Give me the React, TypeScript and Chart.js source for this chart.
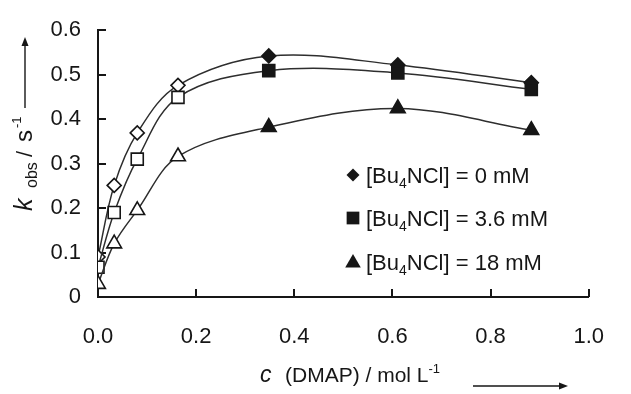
import React, { useEffect, useRef } from 'react';
import { Chart, registerables } from 'chart.js';

Chart.register(...registerables);

// ---- data ----
const dmapConc = [0, 0.033, 0.08, 0.163, 0.348, 0.611, 0.883];
const kObs0mM = [0.09, 0.251, 0.369, 0.476, 0.542, 0.522, 0.482];
const kObs3_6mM = [0.067, 0.19, 0.31, 0.449, 0.509, 0.504, 0.467];
const kObs18mM = [0.029, 0.12, 0.195, 0.316, 0.382, 0.424, 0.375];
const saltConcLabels = ['0', '3.6', '18'];
const xTickLabels = ['0.0', '0.2', '0.4', '0.6', '0.8', '1.0'];
const yTickLabels = ['0', '0.1', '0.2', '0.3', '0.4', '0.5', '0.6'];

// ---- style ----
const FONT = '"Liberation Sans", Arial, sans-serif';
const INK = '#161616';
const LINE = '#2e2e2e';
const OPEN_POINTS = 4;
const pointStyles = ['rectRot', 'rect', 'triangle'];
const pointRadii = [7, 8.5, 8.5];

function drawMarker(ctx: CanvasRenderingContext2D, style: string, x: number, y: number, r: number) {
  ctx.beginPath();
  if (style === 'rectRot') {
    ctx.moveTo(x - r, y); ctx.lineTo(x, y - r); ctx.lineTo(x + r, y); ctx.lineTo(x, y + r);
  } else if (style === 'rect') {
    const s = r * Math.SQRT1_2;
    ctx.rect(x - s, y - s, 2 * s, 2 * s);
  } else {
    const a = (2 * Math.PI) / 3;
    ctx.moveTo(x, y - r);
    ctx.lineTo(x + Math.sin(a) * r, y - Math.cos(a) * r);
    ctx.lineTo(x + Math.sin(2 * a) * r, y - Math.cos(2 * a) * r);
  }
  ctx.closePath();
  ctx.fill();
}

type Run = { t: string; f: string; dy?: number; at?: number };
function drawRuns(ctx: CanvasRenderingContext2D, x: number, y: number, runs: Run[]) {
  let cx = x;
  for (const r of runs) {
    ctx.font = r.f;
    if (r.at !== undefined) cx = x + r.at;
    ctx.fillText(r.t, cx, y + (r.dy || 0));
    cx += ctx.measureText(r.t).width;
  }
}

function arrow(ctx: CanvasRenderingContext2D, x1: number, y1: number, x2: number, y2: number) {
  const ang = Math.atan2(y2 - y1, x2 - x1);
  const hl = 9, hw = 3.5;
  ctx.beginPath();
  ctx.moveTo(x1, y1);
  ctx.lineTo(x2 - Math.cos(ang) * hl * 0.8, y2 - Math.sin(ang) * hl * 0.8);
  ctx.stroke();
  ctx.beginPath();
  ctx.moveTo(x2, y2);
  ctx.lineTo(x2 - Math.cos(ang) * hl - Math.sin(ang) * hw, y2 - Math.sin(ang) * hl + Math.cos(ang) * hw);
  ctx.lineTo(x2 - Math.cos(ang) * hl + Math.sin(ang) * hw, y2 - Math.sin(ang) * hl - Math.cos(ang) * hw);
  ctx.closePath();
  ctx.fill();
}

const overlay = {
  id: 'overlay',
  beforeDatasetsDraw(chart: any) {
    const ctx = chart.ctx as CanvasRenderingContext2D;
    const xs = chart.scales.x, ys = chart.scales.y;
    ctx.save();
    ctx.strokeStyle = INK;
    ctx.lineWidth = 2;
    xs.ticks.forEach((t: any) => {
      if (t.value === 0) return;
      const px = Math.round(xs.getPixelForValue(t.value));
      ctx.beginPath(); ctx.moveTo(px, ys.bottom); ctx.lineTo(px, ys.bottom - 8); ctx.stroke();
    });
    ys.ticks.forEach((t: any) => {
      if (t.value === 0) return;
      const py = Math.round(ys.getPixelForValue(t.value));
      ctx.beginPath(); ctx.moveTo(xs.left, py); ctx.lineTo(xs.left + 8, py); ctx.stroke();
    });
    ctx.restore();
  },
  afterDraw(chart: any) {
    const ctx = chart.ctx as CanvasRenderingContext2D;
    ctx.save();
    ctx.fillStyle = INK;
    ctx.strokeStyle = INK;
    ctx.textBaseline = 'alphabetic';
    ctx.textAlign = 'left';

    // legend
    const rows = [175, 218, 262];
    saltConcLabels.forEach((c, i) => {
      const cy = rows[i];
      drawMarker(ctx, pointStyles[i], 353, cy + (i === 2 ? 1 : 0), i === 0 ? 6.5 : 9);
      drawRuns(ctx, 366, cy + 8, [
        { t: '[Bu', f: `22px ${FONT}` },
        { t: '4', f: `14px ${FONT}`, dy: 5 },
        { t: `NCl] = ${c} mM`, f: `22px ${FONT}` },
      ]);
    });

    // x title
    drawRuns(ctx, 260, 382, [
      { t: 'c', f: `italic 23px ${FONT}` },
      { t: '(DMAP) / mol L', f: `21px ${FONT}`, at: 25 },
      { t: '-1', f: `13px ${FONT}`, dy: -9 },
    ]);
    ctx.lineWidth = 1.4;
    arrow(ctx, 473, 386, 568, 386);

    // y title (rotated)
    ctx.save();
    ctx.translate(32, 212);
    ctx.rotate(-Math.PI / 2);
    drawRuns(ctx, 0, 0, [
      { t: 'k', f: `italic 25px ${FONT}`, at: 1 },
      { t: 'obs', f: `16px ${FONT}`, dy: 5, at: 24 },
      { t: '/', f: `22px ${FONT}`, at: 55 },
      { t: 's', f: `24px ${FONT}`, at: 70 },
      { t: '-1', f: `13px ${FONT}`, dy: -11, at: 84 },
    ]);
    ctx.restore();
    ctx.lineWidth = 1.4;
    arrow(ctx, 25, 108, 25, 37);
    ctx.restore();
  },
};

export default function App() {
  const ref = useRef<HTMLCanvasElement | null>(null);
  useEffect(() => {
    document.body.style.margin = '0';
    const canvas = ref.current!;
    const mk = (data: number[], i: number, order: number) => ({
      label: saltConcLabels[i],
      data: dmapConc.map((x, j) => ({ x, y: data[j] })),
      borderColor: LINE,
      borderWidth: 1.5,
      tension: 0.35,
      fill: false,
      order,
      pointStyle: pointStyles[i],
      pointRadius: pointRadii[i],
      pointHoverRadius: pointRadii[i],
      pointBorderColor: INK,
      pointBorderWidth: 1.6,
      pointBackgroundColor: (c: any) => (c.dataIndex < OPEN_POINTS ? '#ffffff' : INK),
    });
    const chart = new Chart(canvas, {
      type: 'line',
      data: {
        datasets: [mk(kObs0mM, 0, 3), mk(kObs3_6mM, 1, 2), mk(kObs18mM, 2, 1)],
      },
      options: {
        responsive: false,
        animation: false,
        devicePixelRatio: 1,
        layout: { padding: { top: 27, right: 19, left: 0, bottom: 0 } },
        plugins: { legend: { display: false }, tooltip: { enabled: false } },
        scales: {
          x: {
            type: 'linear',
            min: 0,
            max: 1,
            ticks: {
              stepSize: 0.2,
              autoSkip: false,
              maxRotation: 0,
              padding: 27,
              color: INK,
              font: { family: FONT, size: 22 },
              callback: (_v: any, i: number) => xTickLabels[i],
            },
            grid: { display: false, drawTicks: false },
            border: { display: true, color: INK, width: 2 },
            afterFit: (s: any) => { s.height = 97; },
          },
          y: {
            type: 'linear',
            min: 0,
            max: 0.6,
            ticks: {
              stepSize: 0.1,
              autoSkip: false,
              padding: 17,
              color: INK,
              font: { family: FONT, size: 22 },
              callback: (_v: any, i: number) => yTickLabels[i],
            },
            grid: { display: false, drawTicks: false },
            border: { display: true, color: INK, width: 2 },
            afterFit: (s: any) => { s.width = 98; },
          },
        },
      },
      plugins: [overlay],
    } as any);
    return () => chart.destroy();
  }, []);
  return <canvas ref={ref} width={631} height={394} style={{ display: 'block' }} />;
}
